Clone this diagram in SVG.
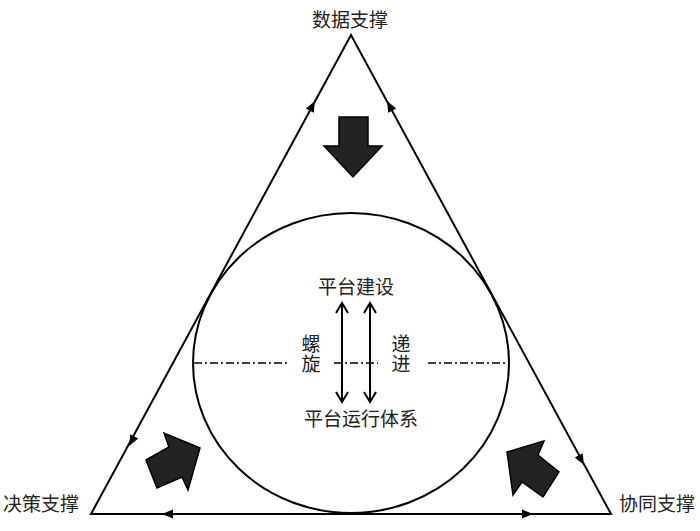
<svg xmlns="http://www.w3.org/2000/svg" width="700" height="531" viewBox="0 0 700 531">
<style>
.ln{fill:none;stroke:#000;stroke-width:2}
.lbl{font-family:"Noto Sans CJK SC","Noto Sans",sans-serif;font-size:19px;fill:#222}
.vt{writing-mode:tb;letter-spacing:1px}
.big{fill:#222;stroke:#000;stroke-width:1.5;stroke-linejoin:miter}
.dd{fill:none;stroke:#000;stroke-width:1.5;stroke-dasharray:8 3 2 3}
</style>
<defs>
<path id="ah" d="M0,0 L-11,-4.5 L-11,4.5 Z" fill="#000"/>
</defs>
<g id="connectors">
<polygon class="ln" points="351,35 91,514 611,514"/>
<use href="#ah" transform="translate(315,101) rotate(-61.5)"/>
<use href="#ah" transform="translate(129,446) rotate(118.5)"/>
<use href="#ah" transform="translate(387,101) rotate(-118.5)"/>
<use href="#ah" transform="translate(584,465) rotate(61.5)"/>
<use href="#ah" transform="translate(162,514) rotate(180)"/>
<use href="#ah" transform="translate(533,514)"/>
<line class="ln" x1="342" y1="303" x2="342" y2="402" stroke-width="1.8"/>
<polyline class="ln" points="336,313 342,303 348,313" stroke-width="1.8"/>
<polyline class="ln" points="336,392 342,402 348,392" stroke-width="1.8"/>
<line class="ln" x1="370" y1="303" x2="370" y2="402" stroke-width="1.8"/>
<polyline class="ln" points="364,313 370,303 376,313" stroke-width="1.8"/>
<polyline class="ln" points="364,392 370,402 376,392" stroke-width="1.8"/>
</g>
<g id="circle">
<ellipse class="ln" cx="351" cy="363" rx="158" ry="150"/>
<line class="dd" x1="194" y1="363" x2="288" y2="363"/>
<line class="dd" x1="334" y1="363" x2="378" y2="363"/>
<line class="dd" x1="428" y1="363" x2="508" y2="363"/>
</g>
<g id="bigArrows">
<polygon class="big" points="339,117 368,117 368,146 382,146 353,177 324,146 339,146"/>
<polygon class="big" points="146,460 169,447 164,433 200,448 188,490 182,477 157,488"/>
<polygon class="big" points="507,452 544,441 538,455 559,472 543,497 522,482 513,495"/>
</g>
<g id="node-data"><text class="lbl" x="350" y="27" text-anchor="middle">数据支撑</text></g>
<g id="node-decision"><text class="lbl" x="41" y="511" text-anchor="middle">决策支撑</text></g>
<g id="node-coop"><text class="lbl" x="657" y="511" text-anchor="middle">协同支撑</text></g>
<g id="node-build"><text class="lbl" x="356" y="294" text-anchor="middle">平台建设</text></g>
<g id="node-run"><text class="lbl" x="361" y="426" text-anchor="middle">平台运行体系</text></g>
<g id="node-spiral"><text class="lbl vt" x="311" y="334">螺旋</text></g>
<g id="node-progress"><text class="lbl vt" x="401" y="334">递进</text></g>
</svg>
